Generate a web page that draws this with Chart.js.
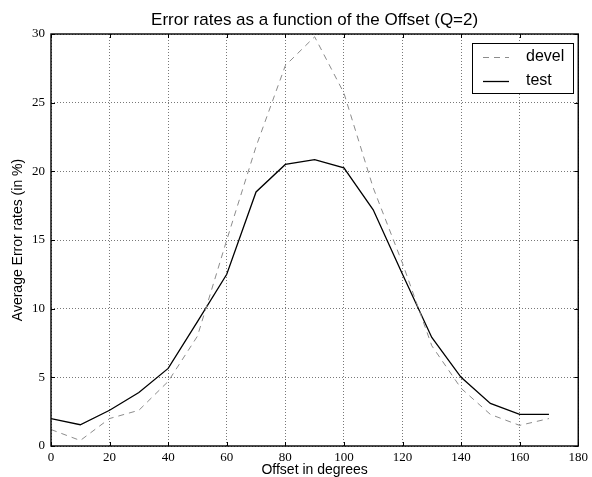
<!DOCTYPE html>
<html>
<head>
<meta charset="utf-8">
<script src="https://cdn.jsdelivr.net/npm/chart.js@4/dist/chart.umd.min.js"></script>
<style>
html,body{margin:0;padding:0;background:#fff;}
canvas{display:block;}
</style>
</head>
<body>
<canvas id="c" width="592" height="477"></canvas>
<script>
const offsets = [0,10,20,30,40,50,60,70,80,90,100,110,120,130,140,150,160,170];
const develRates = [1.2,0.4,2.0,2.6,4.7,8.0,15.0,21.8,27.7,29.8,25.7,18.8,13.3,7.3,4.2,2.3,1.5,2.0];
const testRates = [2.0,1.55,2.6,3.9,5.65,9.05,12.5,18.5,20.5,20.85,20.25,17.2,12.5,7.9,5.0,3.1,2.3,2.3];
const titleText = 'Error rates as a function of the Offset (Q=2)';
const xTitle = 'Offset in degrees';
const yTitle = 'Average Error rates (in %)';

const boxPlugin = {
  id: 'boxPlugin',
  afterDatasetsDraw(chart) {
    const ctx = chart.ctx;
    const a = chart.chartArea;
    ctx.save();
    ctx.strokeStyle = '#000';
    ctx.lineWidth = 1;
    const xs = chart.scales.x, ys = chart.scales.y;
    ctx.beginPath();
    xs.ticks.forEach(t => {
      const px = Math.round(xs.getPixelForValue(t.value)) + 0.5;
      ctx.moveTo(px, a.bottom); ctx.lineTo(px, a.bottom - 4);
      ctx.moveTo(px, a.top); ctx.lineTo(px, a.top + 4);
    });
    ys.ticks.forEach(t => {
      const py = Math.round(ys.getPixelForValue(t.value)) + 0.5;
      ctx.moveTo(a.left, py); ctx.lineTo(a.left + 4, py);
      ctx.moveTo(a.right, py); ctx.lineTo(a.right - 4, py);
    });
    ctx.stroke();
    ctx.lineWidth = 1.4;
    ctx.strokeRect(a.left, a.top, a.right - a.left, a.bottom - a.top);
    // title, centred over the axes
    ctx.fillStyle = '#000';
    ctx.font = '17px "Liberation Sans", Arial, sans-serif';
    ctx.textAlign = 'center';
    ctx.textBaseline = 'alphabetic';
    ctx.fillText(titleText, (a.left + a.right) / 2, 25);
    // legend
    const lx = 472, ly = 43, lw = 101, lh = 50;
    ctx.fillStyle = '#fff';
    ctx.fillRect(lx, ly, lw, lh);
    ctx.lineWidth = 1;
    ctx.strokeStyle = '#000';
    ctx.strokeRect(lx + 0.5, ly + 0.5, lw, lh);
    const rows = [57, 81];
    chart.data.datasets.forEach((ds, i) => {
      const y = rows[i] + 0.5;
      ctx.beginPath();
      ctx.strokeStyle = ds.borderColor;
      ctx.lineWidth = ds.borderWidth;
      ctx.setLineDash(ds.borderDash || []);
      ctx.moveTo(483, y); ctx.lineTo(509, y);
      ctx.stroke();
      ctx.setLineDash([]);
      ctx.fillStyle = '#000';
      ctx.font = '16px "Liberation Sans", Arial, sans-serif';
      ctx.textBaseline = 'middle';
      ctx.textAlign = 'left';
      ctx.fillText(ds.label, 526, rows[i]);
    });
    ctx.restore();
  }
};

new Chart(document.getElementById('c'), {
  type: 'line',
  data: {
    datasets: [
      {
        label: 'devel',
        data: offsets.map((x, i) => ({x: x, y: develRates[i]})),
        borderColor: '#8c8c8c',
        borderWidth: 1,
        borderDash: [6, 5],
        pointRadius: 0,
        tension: 0,
        fill: false
      },
      {
        label: 'test',
        data: offsets.map((x, i) => ({x: x, y: testRates[i]})),
        borderColor: '#000000',
        borderWidth: 1.3,
        pointRadius: 0,
        tension: 0,
        fill: false
      }
    ]
  },
  options: {
    responsive: false,
    animation: false,
    events: [],
    layout: { padding: { left: 0, right: 11, top: 34, bottom: 0 } },
    plugins: {
      legend: { display: false },
      tooltip: { enabled: false },
      title: { display: false }
    },
    scales: {
      x: {
        type: 'linear',
        min: 0, max: 180,
        ticks: {
          stepSize: 20,
          color: '#000',
          padding: 4,
          maxRotation: 0,
          font: { family: '"Liberation Serif", "DejaVu Serif", serif', size: 13 }
        },
        grid: { color: '#555', lineWidth: 0.8, drawTicks: false },
        border: { display: false, dash: [1, 2] },
        title: {
          display: true,
          text: xTitle,
          color: '#000',
          font: { family: '"Liberation Sans", Arial, sans-serif', size: 14, lineHeight: 1 },
          padding: { top: 0, bottom: 0 }
        },
        afterFit(s) { s.height = 31; }
      },
      y: {
        type: 'linear',
        min: 0, max: 30,
        ticks: {
          stepSize: 5,
          color: '#000',
          padding: 6,
          font: { family: '"Liberation Serif", "DejaVu Serif", serif', size: 13 }
        },
        grid: { color: '#555', lineWidth: 0.8, drawTicks: false },
        border: { display: false, dash: [1, 2] },
        title: {
          display: true,
          text: yTitle,
          color: '#000',
          font: { family: '"Liberation Sans", Arial, sans-serif', size: 14, lineHeight: 1 },
          padding: { top: 11, bottom: 0 }
        },
        afterFit(s) { s.width = 51; }
      }
    }
  },
  plugins: [boxPlugin]
});
</script>
</body>
</html>
